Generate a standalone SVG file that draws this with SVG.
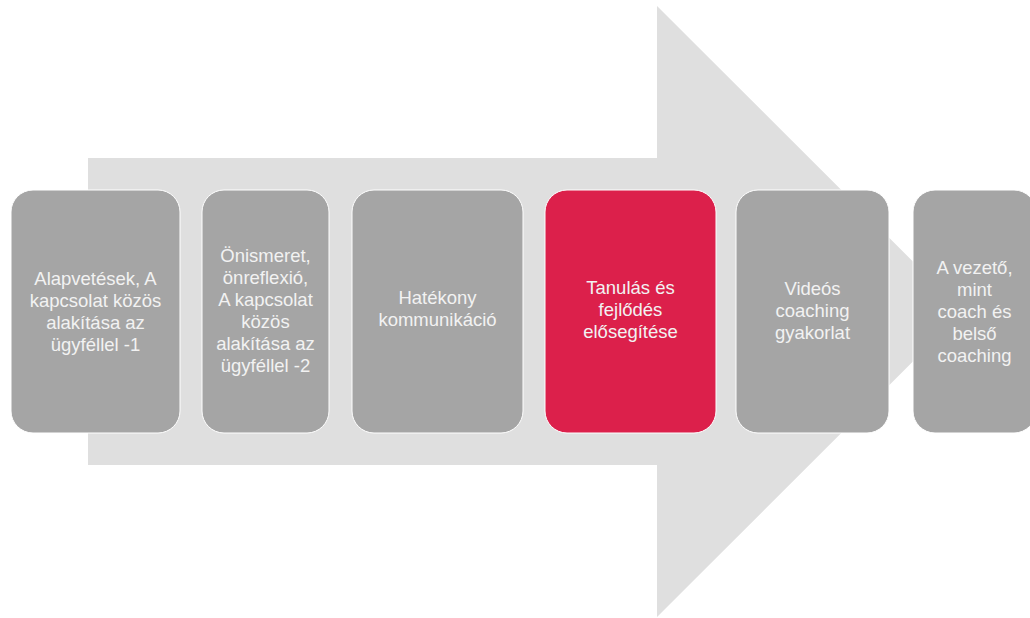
<svg xmlns="http://www.w3.org/2000/svg" width="1030" height="618" viewBox="0 0 1030 618">
<style>
.box{fill:#A5A5A5;stroke:#FFFFFF;stroke-width:1}
.hl{fill:#DC204B;stroke:#FFFFFF;stroke-width:1}
.t{font-family:"Liberation Sans",Arial,sans-serif;font-size:18.5px;fill:#F2F2F2;text-anchor:middle}
</style>
<rect width="1030" height="618" fill="#FFFFFF"/>
<g id="arrow">
<polygon points="88,158 657,158 657,6 963,311.5 657,617 657,465 88,465" fill="#DFDFDF"/>
</g>
<g id="connectors"></g>
<g id="n1">
<rect class="box" x="11" y="190" width="169" height="243" rx="22"/>
<text class="t" x="95.5"><tspan x="95.5" y="285">Alapvetések, A</tspan><tspan x="95.5" y="307">kapcsolat közös</tspan><tspan x="95.5" y="329">alakítása az</tspan><tspan x="95.5" y="351">ügyféllel -1</tspan></text>
</g>
<g id="n2">
<rect class="box" x="202" y="190" width="127" height="243" rx="22"/>
<text class="t" x="265.5"><tspan x="265.5" y="262">Önismeret,</tspan><tspan x="265.5" y="284">önreflexió,</tspan><tspan x="265.5" y="306">A kapcsolat</tspan><tspan x="265.5" y="328">közös</tspan><tspan x="265.5" y="350">alakítása az</tspan><tspan x="265.5" y="372">ügyféllel -2</tspan></text>
</g>
<g id="n3">
<rect class="box" x="352" y="190" width="171" height="243" rx="22"/>
<text class="t" x="437.5"><tspan x="437.5" y="304">Hatékony</tspan><tspan x="437.5" y="326">kommunikáció</tspan></text>
</g>
<g id="n4">
<rect class="hl" x="545" y="190" width="171" height="243" rx="22"/>
<text class="t" x="630.5"><tspan x="630.5" y="294">Tanulás és</tspan><tspan x="630.5" y="316">fejlődés</tspan><tspan x="630.5" y="338">elősegítése</tspan></text>
</g>
<g id="n5">
<rect class="box" x="736" y="190" width="153" height="243" rx="22"/>
<text class="t" x="812.5"><tspan x="812.5" y="295">Videós</tspan><tspan x="812.5" y="317">coaching</tspan><tspan x="812.5" y="339">gyakorlat</tspan></text>
</g>
<g id="n6">
<rect class="box" x="913" y="190" width="123" height="243" rx="22"/>
<text class="t" x="974.5"><tspan x="974.5" y="274">A vezető,</tspan><tspan x="974.5" y="296">mint</tspan><tspan x="974.5" y="318">coach és</tspan><tspan x="974.5" y="340">belső</tspan><tspan x="974.5" y="362">coaching</tspan></text>
</g>
</svg>
